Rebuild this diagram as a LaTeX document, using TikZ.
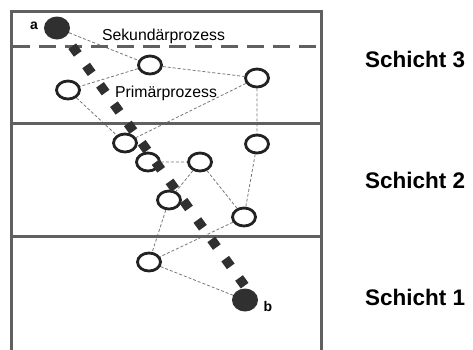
\documentclass[tikz,border=0pt]{standalone}
\usepackage{fontspec}
\setmainfont{Liberation Sans}
\usetikzlibrary{shapes.geometric,backgrounds}
\definecolor{framec}{HTML}{606060}
\definecolor{darkc}{HTML}{303030}
\definecolor{ringc}{HTML}{222222}
\definecolor{linkc}{HTML}{777777}
\tikzset{
  frame/.style={draw=framec, line width=3pt},
  ring/.style={ellipse, draw=ringc, fill=white, line width=2.8pt, minimum width=23pt, minimum height=18pt, inner sep=0pt},
  endpt/.style={ellipse, fill=darkc, minimum width=26pt, minimum height=23pt, inner sep=0pt},
  link/.style={draw=linkc, line width=0.8pt, dash pattern=on 3pt off 2pt},
  bigdots/.style={draw=darkc, line width=9.5pt, dash pattern=on 9.5pt off 14.3pt},
  layerlabel/.style={font=\fontsize{22.5}{26}\selectfont\bfseries, anchor=base west, inner sep=0pt},
  proclabel/.style={font=\fontsize{15.8}{18}\selectfont, anchor=base, inner sep=0pt},
  ptlabel/.style={font=\fontsize{14}{16}\selectfont\bfseries, anchor=base, inner sep=0pt}
}
\begin{document}
\begin{tikzpicture}[x=1pt,y=-1pt]
\useasboundingbox (0,0) rectangle (473,349);
% frame
\draw[frame] (11.5,352) -- (11.5,11.5) -- (321.5,11.5) -- (321.5,352);
\draw[frame] (11.5,123.5) -- (321.5,123.5);
\draw[frame] (11.5,236.7) -- (321.5,236.7);
\draw[frame, dash pattern=on 17pt off 9pt] (13,46) -- (321.5,46);
% labels
\node[proclabel] (sek) at (163.5,40) {Sekundärprozess};
\node[proclabel] (pri) at (166,97.3) {Primärprozess};
\node[layerlabel] (s3) at (365,67) {Schicht 3};
\node[layerlabel] (s2) at (365,188) {Schicht 2};
\node[layerlabel] (s1) at (365,305) {Schicht 1};
% nodes
\node[endpt] (a) at (57,28) {};
\node[endpt] (b) at (245,300) {};
\node[ptlabel] (la) at (34,29) {a};
\node[ptlabel] (lb) at (268,311) {b};
\node[ring] (c1) at (150,65) {};
\node[ring] (c2) at (68,90) {};
\node[ring] (c3) at (257,78) {};
\node[ring] (c4) at (125,143) {};
\node[ring] (c5) at (148,162) {};
\node[ring] (c6) at (200,162) {};
\node[ring] (c7) at (257,144) {};
\node[ring] (c8) at (169,200) {};
\node[ring] (c9) at (244,217) {};
\node[ring] (c10) at (149,262) {};
% links (behind everything)
\begin{scope}[on background layer]
\path[link] (a) -- (c1) (c1) -- (c2) (c1) -- (c3) (c3) -- (c4) (c2) -- (c4)
  (c3) -- (c7) (c5) -- (c6) (c6) -- (c8) (c6) -- (c9) (c7) -- (c9)
  (c8) -- (c10) (c9) -- (c10) (c10) -- (b);
\end{scope}
% main path a -> b
\coordinate (ds) at (72.2,46.2);
\coordinate (de) at (244.8,285.9);
\draw[bigdots] (ds) -- (de);
\end{tikzpicture}
\end{document}
